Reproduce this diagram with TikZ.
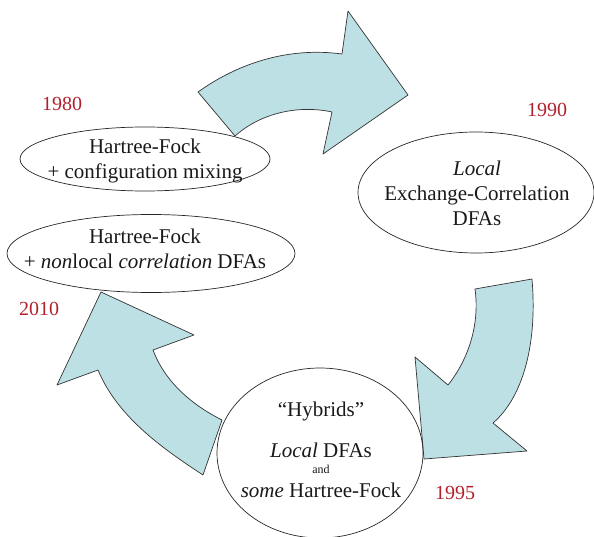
\documentclass[tikz,border=0pt]{standalone}
\usepackage{fontspec}
\setmainfont{Liberation Serif}
\usetikzlibrary{positioning}
\definecolor{yearred}{RGB}{178,32,45}
\definecolor{cyclefill}{RGB}{188,224,228}
\begin{document}
\begin{tikzpicture}[x=1pt,y=-1pt, line join=round, line cap=round,
    yeartext/.style={text=yearred, font=\fontsize{20}{22}\selectfont, inner sep=0pt},
    boxtext/.style={align=center, font=\fontsize{21}{25}\selectfont, inner sep=0pt, text=black!90},
    blockarrow/.style={fill=cyclefill, draw=black!80, line width=0.7pt},
    ring/.style={draw=black!85, line width=0.7pt}]
    \useasboundingbox (0,0) rectangle (594,537);
    % the three curved arrows
    \filldraw[blockarrow] (198,92) .. controls (240,62) and (290,47) .. (342,54) -- (348,11) -- (408,95) -- (323,154)
        -- (332,112) .. controls (300,105) and (262,112) .. (235,136) -- cycle;
    \filldraw[blockarrow] (532,279) -- (475,289) .. controls (480,325) and (468,360) .. (448,385) -- (415,357) -- (424,459)
        -- (527,451) -- (493,423) .. controls (520,400) and (538,350) .. (532,279) -- cycle;
    \filldraw[blockarrow] (101,292) -- (194,335) -- (153,350) .. controls (165,382) and (192,405) .. (222,420) -- (203,475)
        .. controls (165,450) and (118,418) .. (98,370) -- (57,385) -- cycle;
    % the four methods
    \draw[ring] (145,159) ellipse [x radius=125, y radius=32];
    \draw[ring] (151,253.5) ellipse [x radius=144, y radius=39];
    \draw[ring] (476,192.5) ellipse [x radius=118, y radius=60.5];
    \draw[ring] (320,453) ellipse [x radius=103, y radius=85];
    \node[boxtext] (hfci) at (145,161) {Hartree-Fock\\+ configuration mixing};
    \node[boxtext] (hfnl) at (145,249) {Hartree-Fock\\+ \textit{non}local \textit{correlation} DFAs};
    \node[boxtext] (lxc) at (477,193) {\textit{Local}\\Exchange-Correlation\\DFAs};
    \node[boxtext, anchor=base] (hyb) at (321,416) {``Hybrids''};
    \node[boxtext, anchor=base] (hybloc) at (321,457) {\textit{Local} DFAs};
    \node[boxtext, anchor=base, font=\fontsize{12}{14}\selectfont] (hyband) at (321,473) {and};
    \node[boxtext, anchor=base] (hybhf) at (321,497) {\textit{some} Hartree-Fock};
    % years
    \node[yeartext] (y1980) at (62,104) {1980};
    \node[yeartext] (y1990) at (547,110) {1990};
    \node[yeartext] (y1995) at (455,493) {1995};
    \node[yeartext] (y2010) at (39,309) {2010};
\end{tikzpicture}
\end{document}
